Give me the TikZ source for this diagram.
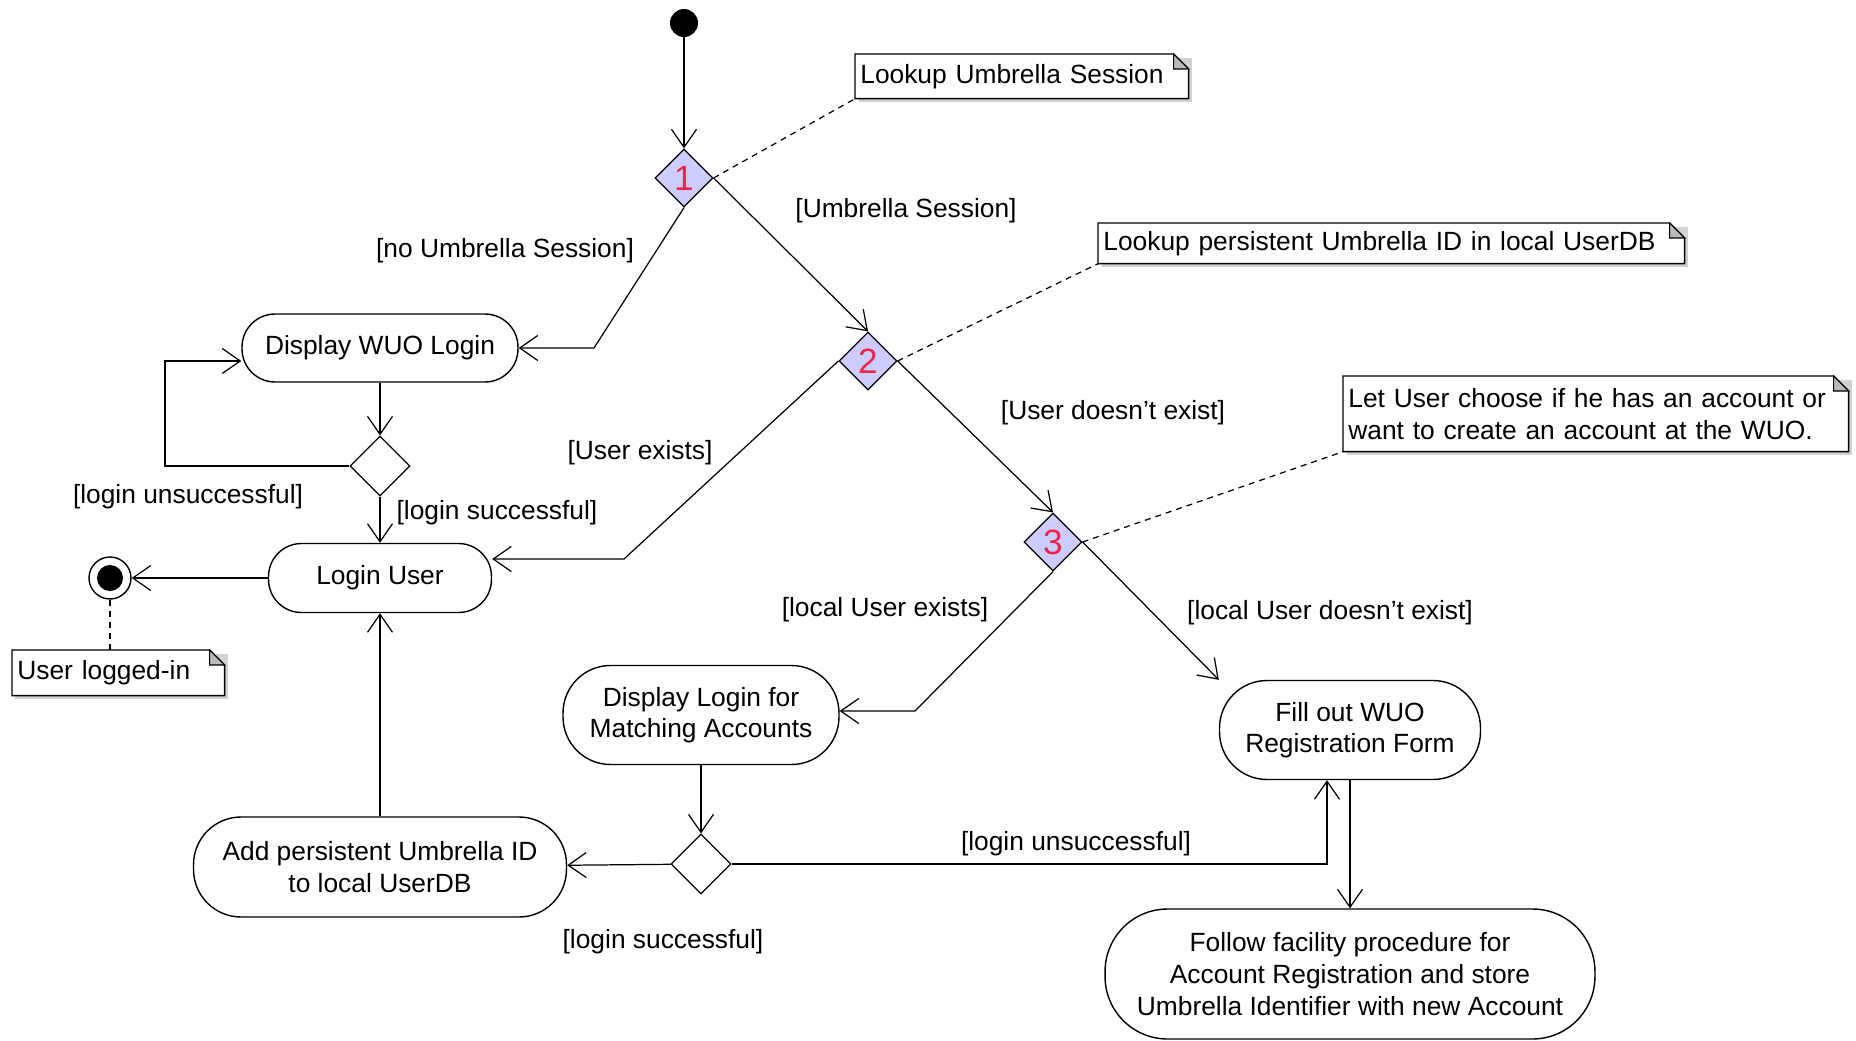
\documentclass[tikz,border=0pt]{standalone}
\usepackage{fontspec}
\setmainfont{Liberation Sans}
\usetikzlibrary{arrows.meta,shapes.geometric,backgrounds}

\definecolor{lookupfill}{HTML}{CCCCFF}
\definecolor{numred}{HTML}{F0244A}

\tikzset{
  flow/.style={-{Straight Barb[length=0.36cm,width=0.5cm]}, line width=0.7pt},
  activity/.style={draw, line width=0.8pt, fill=white, rounded corners=0.66cm, align=center, inner sep=0pt},
  branch/.style={draw, diamond, line width=0.7pt, fill=white, inner sep=0pt, minimum width=1.2cm, minimum height=1.2cm},
  lookup/.style={branch, fill=lookupfill, minimum width=1.16cm, minimum height=1.16cm, text=numred, font=\fontsize{20}{20}\selectfont},
  note/.style={anchor=north west, align=left, inner xsep=0.1cm, inner ysep=0pt},
  notelink/.style={line width=0.7pt, dash pattern=on 0.12cm off 0.1cm},
}

\begin{document}
\begin{tikzpicture}[x=0.02cm, y=-0.02cm, font=\fontsize{15}{18}\selectfont]
    \useasboundingbox (0,0) rectangle (1856,1041);

    % start and lookups
    \node[circle, fill=black, minimum size=0.56cm, inner sep=0pt] (start) at (684,23) {};
    \node[lookup] (d1) at (684,178) {1};
    \node[lookup] (d2) at (868,361) {2};
    \node[lookup] (d3) at (1053,542) {3};

    % activities
    \node[activity, minimum width=5.52cm, minimum height=1.36cm] (dwl) at (380,348) {Display WUO Login};
    \node[branch] (m1) at (380,466) {};
    \node[activity, minimum width=4.46cm, minimum height=1.38cm] (lu) at (380,578) {Login User};
    \node[circle, draw, line width=0.8pt, fill=white, minimum size=0.84cm, inner sep=0pt] (final) at (110,578) {};
    \node[circle, fill=black, minimum size=0.52cm, inner sep=0pt] (finaldot) at (final) {};
    \node[activity, minimum width=5.52cm, minimum height=1.98cm, rounded corners=0.95cm] (dlm) at (701,715) {Display Login for\\Matching Accounts};
    \node[branch] (m2) at (701,864) {};
    \node[activity, minimum width=7.46cm, minimum height=2.0cm, rounded corners=0.95cm] (add) at (380,867) {Add persistent Umbrella ID\\to local UserDB};
    \node[activity, minimum width=5.22cm, minimum height=1.98cm, rounded corners=0.95cm] (regform) at (1350,730) {Fill out WUO\\Registration Form};
    \node[activity, minimum width=9.8cm, minimum height=2.6cm, rounded corners=1.25cm] (facility) at (1350,974) {Follow facility procedure for\\Account Registration and store\\Umbrella Identifier with new Account};

    % notes
    \node[note, text width=6.46cm, minimum height=0.88cm] (n1) at (855,54) {Lookup Umbrella Session};
    \node[note, text width=11.52cm, minimum height=0.8cm] (n2) at (1098,223) {Lookup persistent Umbrella ID in local UserDB};
    \node[note, text width=9.9cm, minimum height=1.5cm] (n3) at (1343,376) {Let User choose if he has an account or\\want to create an account at the WUO.};
    \node[note, text width=4.04cm, minimum height=0.9cm] (n4) at (12,650) {User logged-in};

    \begin{scope}[on background layer]
        \foreach \n in {n1,n2,n3,n4} {
            \fill[gray!35] ([shift={(0.07cm,-0.07cm)}]\n.south west) -- ([shift={(0.07cm,-0.07cm)}]\n.north west) -- ([shift={(0.07cm,-0.07cm)}]\n.north east) -- ([shift={(0.07cm,-0.07cm)}]\n.south east) -- cycle;
            \draw[line width=0.8pt, fill=white] (\n.south west) -- (\n.north west) -- ([xshift=-0.3cm]\n.north east) -- ([yshift=-0.3cm]\n.north east) -- (\n.south east) -- cycle;
            \draw[line width=0.6pt, fill=gray!55] ([xshift=-0.3cm]\n.north east) -- ([xshift=-0.3cm, yshift=-0.3cm]\n.north east) -- ([yshift=-0.3cm]\n.north east) -- cycle;
        }
    \end{scope}

    % guards
    \node (g1) at (906,211) {[Umbrella Session]};
    \node (g2) at (505,251) {[no Umbrella Session]};
    \node (g3) at (1113,413) {[User doesn't exist]};
    \node (g4) at (640,453) {[User exists]};
    \node (g5) at (188,497) {[login unsuccessful]};
    \node (g6) at (497,513) {[login successful]};
    \node (g7) at (885,610) {[local User exists]};
    \node (g8) at (1330,613) {[local User doesn't exist]};
    \node (g9) at (1076,844) {[login unsuccessful]};
    \node (g10) at (663,942) {[login successful]};

    % bends
    \coordinate (k1) at (594,348);
    \coordinate (k2) at (624,559);
    \coordinate (k3) at (915,711);
    \coordinate (k4) at (165,466);
    \coordinate (k5) at (165,361);
    \coordinate (k6) at (1327,864);

    \draw[flow] (start) -- (d1);
    \draw[flow] (d1.south) -- (k1) -- (dwl.east);
    \draw[flow] (d1.east) -- (d2.north);
    \draw[flow] (d2.east) -- (d3.north);
    \draw[flow] (d2.west) -- (k2) -- (k2 -| lu.east);
    \draw[flow] (d3.south) -- (k3) -- (k3 -| dlm.east);
    \draw[flow] (d3.east) -- (regform.north west);
    \draw[flow] (dwl) -- (m1);
    \draw[flow] (m1.west) -- (k4) -- (k5) -- (k5 -| dwl.west);
    \draw[flow] (m1) -- (lu);
    \draw[flow] (lu) -- (final);
    \draw[flow] (dlm) -- (m2);
    \draw[flow] (m2) -- (add);
    \draw[flow] (m2.east) -- (k6) -- (k6 |- regform.south);
    \draw[flow] (regform) -- (facility);
    \draw[flow] (add) -- (lu);

    \draw[notelink] (d1.east) -- (n1.south west);
    \draw[notelink] (d2.east) -- (n2.south west);
    \draw[notelink] (d3.east) -- (n3.south west);
    \draw[notelink] (final) -- (final |- n4.north);
\end{tikzpicture}
\end{document}
